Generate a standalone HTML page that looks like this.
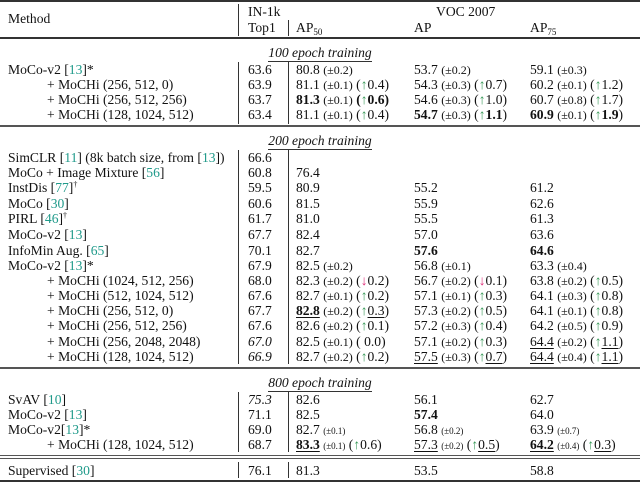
<!DOCTYPE html>
<html><head><meta charset="utf-8">
<style>
body{margin:0;background:#fff;}
#t{position:relative;width:640px;height:483px;overflow:hidden;font-family:"Liberation Serif",serif;font-size:13.6px;color:#111;}
.c{position:absolute;white-space:nowrap;line-height:15px;height:15px;}
.s{font-size:12px;}
.xs{font-size:9px;}
.g{color:#3a9a5a;}
.p{color:#e0307a;}
.r{color:#1f9a8a;}
.hr{position:absolute;left:0;width:640px;background:#333;}
.vl{position:absolute;width:1px;background:#333;}
.sec{position:absolute;font-style:italic;text-align:center;width:130px;left:255px;line-height:15px;}
.sec span{border-bottom:1px solid #333;padding-bottom:1px;}
u{text-decoration:underline;text-underline-offset:2px;}
sub{font-size:9px;vertical-align:-3px;line-height:0;}
sup{font-size:8px;vertical-align:5px;line-height:0;}
</style></head><body>
<div id="t">
<div class="hr" style="top:0;height:2px"></div>
<div class="c" style="left:8px;top:11px">Method</div>
<div class="c" style="left:248px;top:4px">IN-1k</div>
<div class="c" style="left:248px;top:20px">Top1</div>
<div class="c" style="left:436px;top:4px">VOC 2007</div>
<div class="c" style="left:296px;top:20px">AP<sub>50</sub></div>
<div class="c" style="left:414px;top:20px">AP</div>
<div class="c" style="left:530px;top:20px">AP<sub>75</sub></div>
<div class="vl" style="left:238px;top:4px;height:32px"></div>
<div class="vl" style="left:288px;top:20px;height:16px"></div>
<div class="hr" style="top:37px;height:1.5px"></div>

<div class="sec" style="top:45px"><span>100 epoch training</span></div>
<div class="vl" style="left:238px;top:62px;height:62px"></div>
<div class="vl" style="left:288px;top:62px;height:62px"></div>
<div class="hr" style="top:125px;height:1.5px;background:#555"></div>

<div class="sec" style="top:133px"><span>200 epoch training</span></div>
<div class="vl" style="left:238px;top:150px;height:214px"></div>
<div class="vl" style="left:288px;top:150px;height:214px"></div>
<div class="hr" style="top:367px;height:1.5px;background:#555"></div>

<div class="sec" style="top:375px"><span>800 epoch training</span></div>
<div class="vl" style="left:238px;top:392px;height:60px"></div>
<div class="vl" style="left:288px;top:392px;height:60px"></div>
<div class="hr" style="top:455px;height:1px;background:#555"></div>
<div class="hr" style="top:458px;height:1px;background:#555"></div>
<div class="vl" style="left:238px;top:462px;height:16px"></div>
<div class="vl" style="left:288px;top:462px;height:16px"></div>
<div class="hr" style="top:480px;height:2px"></div>
</div>
<script>
function s(x){return '<span class="s">(±'+x+')</span>';}
function xs(x){return '<span class="xs">(±'+x+')</span>';}
function up(x){return ' (<span class="g">↑</span>'+x+')';}
function dn(x){return ' (<span class="p">↓</span>'+x+')';}
function r(n){return '[<span class="r">'+n+'</span>]';}
var M='+ MoCHi ';
var rows=[
[62,'MoCo-v2 '+r(13)+'*',0,'63.6','80.8 '+s('0.2'),'53.7 '+s('0.2'),'59.1 '+s('0.3')],
[77,M+'(256, 512, 0)',1,'63.9','81.1 '+s('0.1')+up('0.4'),'54.3 '+s('0.3')+up('0.7'),'60.2 '+s('0.1')+up('1.2')],
[92,M+'(256, 512, 256)',1,'63.7','<b>81.3</b> '+s('0.1')+' <b>(<span class="g">↑</span>0.6)</b>','54.6 '+s('0.3')+up('1.0'),'60.7 '+s('0.8')+up('1.7')],
[107,M+'(128, 1024, 512)',1,'63.4','81.1 '+s('0.1')+up('0.4'),'<b>54.7</b> '+s('0.3')+' (<span class="g">↑</span><b>1.1</b>)','<b>60.9</b> '+s('0.1')+' (<span class="g">↑</span><b>1.9</b>)'],
[150,'SimCLR '+r(11)+' (8k batch size, from '+r(13)+')',0,'66.6','','',''],
[165,'MoCo + Image Mixture '+r(56),0,'60.8','76.4','',''],
[180,'InstDis '+r(77)+'<sup>†</sup>',0,'59.5','80.9','55.2','61.2'],
[196,'MoCo '+r(30),0,'60.6','81.5','55.9','62.6'],
[211,'PIRL '+r(46)+'<sup>†</sup>',0,'61.7','81.0','55.5','61.3'],
[227,'MoCo-v2 '+r(13),0,'67.7','82.4','57.0','63.6'],
[243,'InfoMin Aug. '+r(65),0,'70.1','82.7','<b>57.6</b>','<b>64.6</b>'],
[258,'MoCo-v2 '+r(13)+'*',0,'67.9','82.5 '+s('0.2'),'56.8 '+s('0.1'),'63.3 '+s('0.4')],
[273,M+'(1024, 512, 256)',1,'68.0','82.3 '+s('0.2')+dn('0.2'),'56.7 '+s('0.2')+dn('0.1'),'63.8 '+s('0.2')+up('0.5')],
[288,M+'(512, 1024, 512)',1,'67.6','82.7 '+s('0.1')+up('0.2'),'57.1 '+s('0.1')+up('0.3'),'64.1 '+s('0.3')+up('0.8')],
[303,M+'(256, 512, 0)',1,'67.7','<b><u>82.8</u></b> '+s('0.2')+' (<span class="g">↑</span><u>0.3</u>)','57.3 '+s('0.2')+up('0.5'),'64.1 '+s('0.1')+up('0.8')],
[318,M+'(256, 512, 256)',1,'67.6','82.6 '+s('0.2')+up('0.1'),'57.2 '+s('0.3')+up('0.4'),'64.2 '+s('0.5')+up('0.9')],
[334,M+'(256, 2048, 2048)',1,'<i>67.0</i>','82.5 '+s('0.1')+' ( 0.0)','57.1 '+s('0.2')+up('0.3'),'<u>64.4</u> '+s('0.2')+' (<span class="g">↑</span><u>1.1</u>)'],
[349,M+'(128, 1024, 512)',1,'<i>66.9</i>','82.7 '+s('0.2')+up('0.2'),'<u>57.5</u> '+s('0.3')+' (<span class="g">↑</span><u>0.7</u>)','<u>64.4</u> '+s('0.4')+' (<span class="g">↑</span><u>1.1</u>)'],
[392,'SvAV '+r(10),0,'<i>75.3</i>','82.6','56.1','62.7'],
[407,'MoCo-v2 '+r(13),0,'71.1','82.5','<b>57.4</b>','64.0'],
[422,'MoCo-v2'+r(13)+'*',0,'69.0','82.7 '+xs('0.1'),'56.8 '+xs('0.2'),'63.9 '+xs('0.7')],
[437,M+'(128, 1024, 512)',1,'68.7','<b><u>83.3</u></b> '+xs('0.1')+up('0.6'),'<u>57.3</u> '+xs('0.2')+' (<span class="g">↑</span><u>0.5</u>)','<b><u>64.2</u></b> '+xs('0.4')+' (<span class="g">↑</span><u>0.3</u>)'],
[463,'Supervised '+r(30),0,'76.1','81.3','53.5','58.8']
];
var t=document.getElementById('t');
var cols=[248,296,414,530];
var names=['top1','ap50','ap','ap75'];
rows.forEach(function(rw,i){
  var m=document.createElement('div');
  m.className='c';m.style.top=rw[0]+'px';m.style.left=(rw[2]?47:8)+'px';
  m.innerHTML=rw[1];
  
  
  t.appendChild(m);
  for(var k=0;k<4;k++){
    var d=document.createElement('div');
    d.className='c';d.style.top=rw[0]+'px';d.style.left=cols[k]+'px';
    d.innerHTML=rw[3+k];
    
    
    t.appendChild(d);
  }
});
</script>
</body></html>
